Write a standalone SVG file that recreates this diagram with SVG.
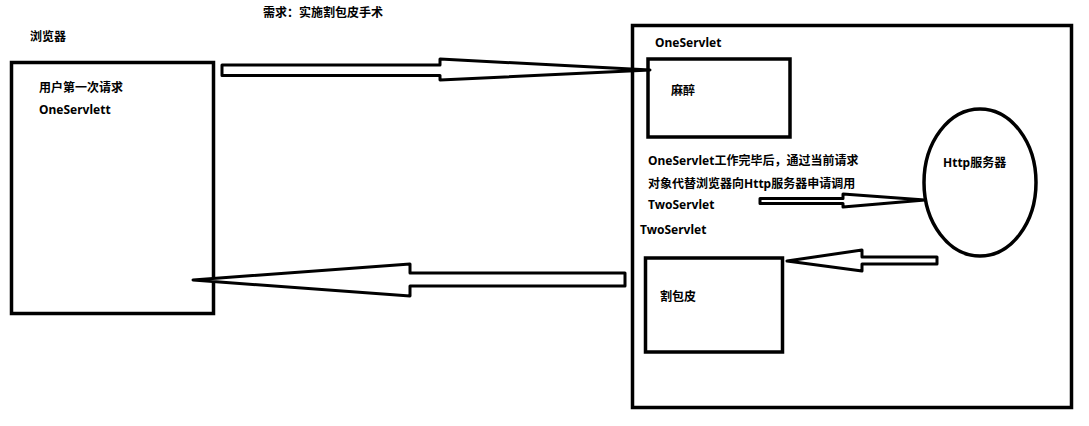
<svg xmlns="http://www.w3.org/2000/svg" width="1089" height="426" viewBox="0 0 1089 426">
<style>
.box{fill:none;stroke:#000;stroke-width:3.5}
.arr{fill:#fff;stroke:#000;stroke-width:3;stroke-linejoin:round}
text{font-family:"Noto Sans","Noto Sans CJK SC",sans-serif;font-size:12px;font-weight:bold;fill:#000}
</style>
<rect width="1089" height="426" fill="#fff"/>
<text x="263" y="17">需求：实施割包皮手术</text>
<g id="browser">
<text x="30" y="41">浏览器</text>
<rect class="box" x="11.5" y="62.5" width="202" height="251"/>
<text x="39" y="92">用户第一次请求</text>
<text x="39" y="114">OneServlett</text>
</g>
<g id="server">
<rect class="box" x="632.5" y="25.5" width="439" height="382"/>
</g>
<g id="oneServlet">
<text x="655" y="47">OneServlet</text>
<rect class="box" x="648" y="59" width="142" height="78"/>
<text x="671" y="95">麻醉</text>
</g>
<g id="note">
<text x="648" y="165">OneServlet工作完毕后，通过当前请求</text>
<text x="648" y="188">对象代替浏览器向Http服务器申请调用</text>
<text x="648" y="209">TwoServlet</text>
</g>
<g id="httpServer">
<ellipse cx="980" cy="182.5" rx="56" ry="73.5" fill="none" stroke="#000" stroke-width="3.5"/>
<text x="943" y="167">Http服务器</text>
</g>
<g id="twoServlet">
<text x="640" y="234">TwoServlet</text>
<rect class="box" x="645.5" y="258" width="137" height="94"/>
<text x="660" y="301">割包皮</text>
</g>
<g id="connectors">
<polygon class="arr" points="222,65 440,65 440,59 650,70 440,80 440,75.5 222,75.5"/>
<polygon class="arr" points="625,273 410,273 410,264 193,280 410,296 410,286 625,286"/>
<polygon class="arr" points="760,198.5 843,198.5 843,194 925,200 843,207 843,203.5 760,203.5"/>
<polygon class="arr" points="937,257 862,257 862,250 787,261 862,271 862,264 937,264"/>
</g>
</svg>
